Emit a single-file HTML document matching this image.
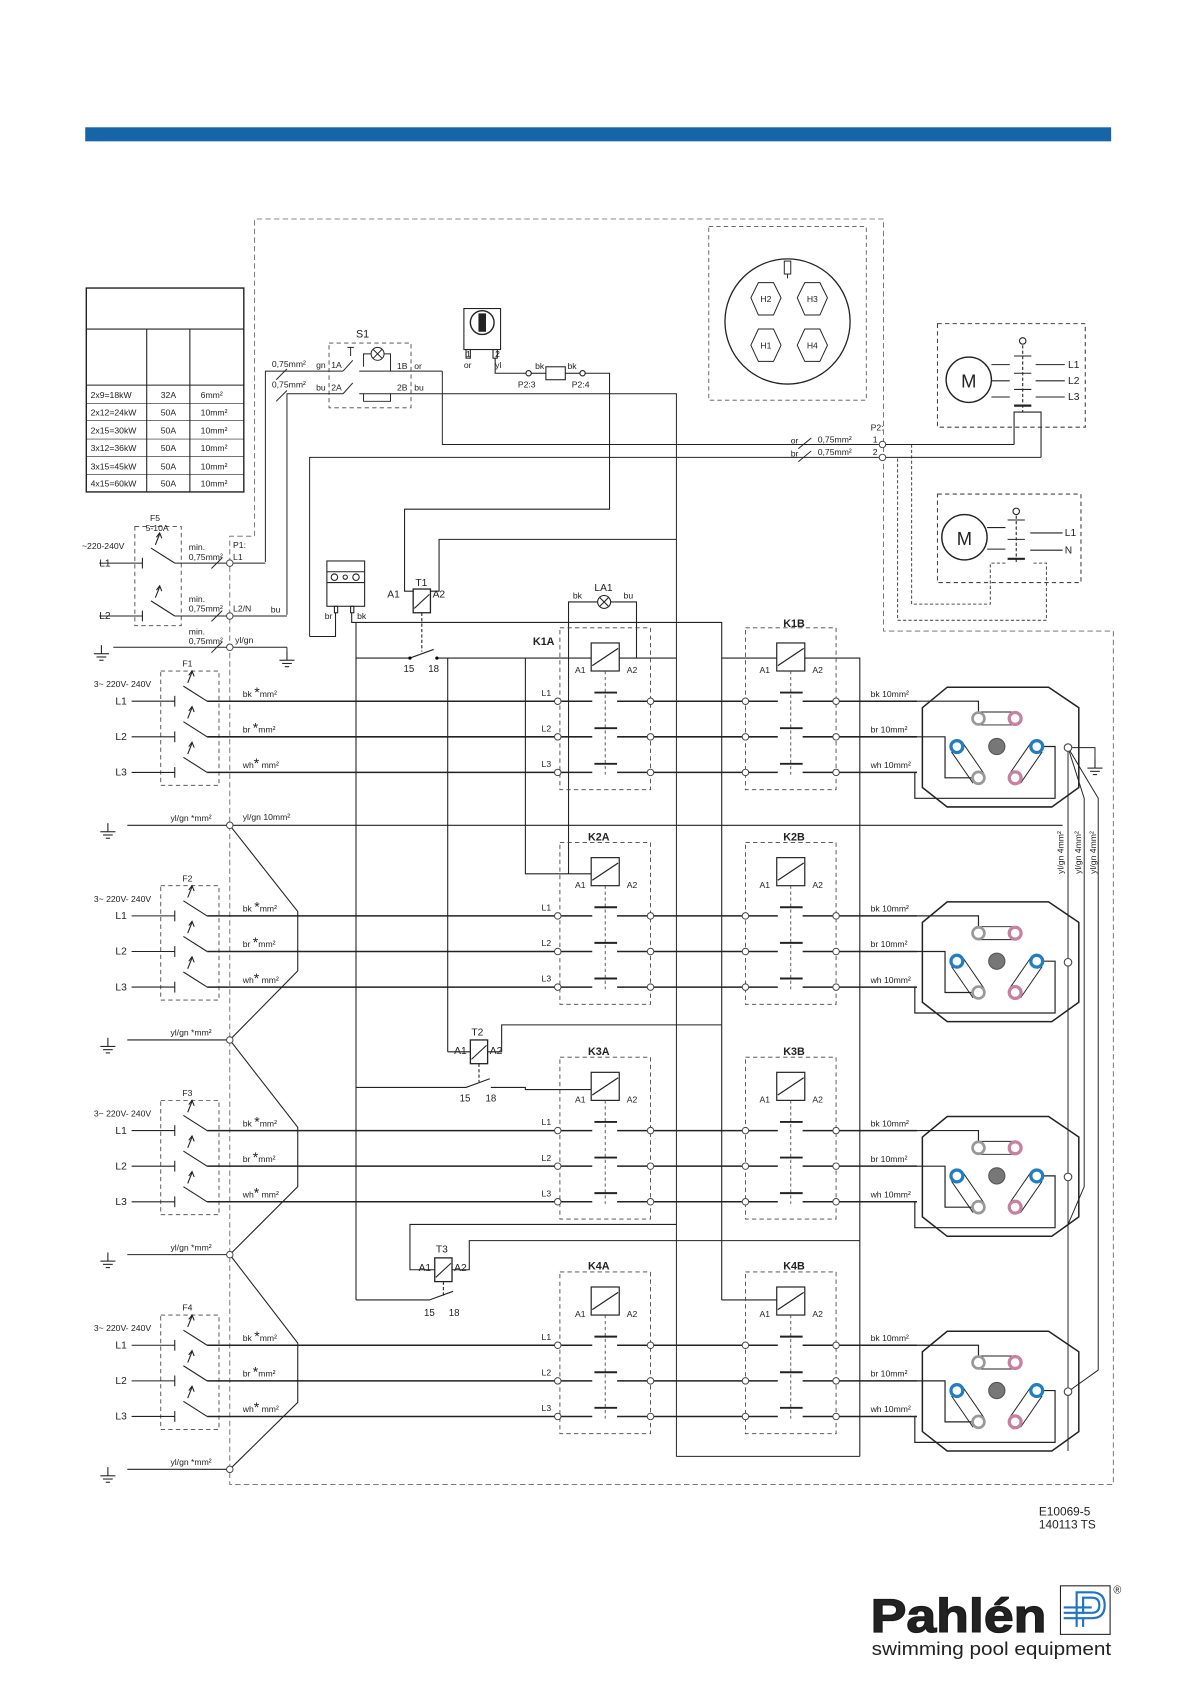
<!DOCTYPE html>
<html><head><meta charset="utf-8"><style>
html,body{margin:0;padding:0;background:#fff;}
svg{display:block;}
text{font-family:"Liberation Sans",sans-serif;fill:#222;}
.s{font-size:8px;}
.m{font-size:9.5px;}
.b{font-weight:bold;font-size:10px;}
</style></head><body>
<svg width="1191" height="1684" viewBox="0 0 1104 1561" preserveAspectRatio="none" xmlns="http://www.w3.org/2000/svg">
<defs>
<g id="trm"><circle r="3" fill="#fff" stroke="#444" stroke-width="0.9"/></g>
<g id="cont">
 <rect x="0" y="-68" width="84" height="150" fill="none" stroke="#444" stroke-width="0.8" stroke-dasharray="4,3"/>
 <rect x="29" y="-54" width="26" height="26" fill="#fff" stroke="#222" stroke-width="1.1"/>
 <line x1="30" y1="-33" x2="54" y2="-49" stroke="#222" stroke-width="1.1"/>
 <line x1="42" y1="-28" x2="42" y2="68" stroke="#444" stroke-width="0.8" stroke-dasharray="3,2.5"/>
 <line x1="32" y1="-8" x2="53" y2="-8" stroke="#222" stroke-width="1.8"/>
 <line x1="32" y1="25" x2="53" y2="25" stroke="#222" stroke-width="1.8"/>
 <line x1="32" y1="58" x2="53" y2="58" stroke="#222" stroke-width="1.8"/>
</g>
<g id="heat" fill="none" stroke="#222" stroke-width="1.1">
 <path d="M878,-13 L972,-13 L1000,6 L1000,80 L975,98 L878,98 L855,80 L855,6 Z" stroke-width="1.4"/>
 <rect x="901" y="10" width="46" height="12" rx="6" stroke-width="0.9"/>
 <path d="M882,47 L902,76 M892,38 L912,67" stroke-width="0.9"/>
 <path d="M966,47 L946,76 M956,38 L936,67" stroke-width="0.9"/>
 <path d="M850,0 L907,0 L907,16"/>
 <path d="M850,33 L876,33 L876,71 L907,71"/>
 <path d="M850,66 L848,66 L848,90 L978,90 L978,42 L961,42"/>
 <circle cx="907" cy="16" r="5.5" fill="#fff" stroke="#999" stroke-width="2.5"/>
 <circle cx="941" cy="16" r="5.5" fill="#fff" stroke="#c9809c" stroke-width="3"/>
 <circle cx="887" cy="42" r="5.5" fill="#fff" stroke="#1f7fc1" stroke-width="3"/>
 <circle cx="924" cy="42" r="7.5" fill="#777" stroke="#555" stroke-width="1"/>
 <circle cx="961" cy="42" r="5.5" fill="#fff" stroke="#1f7fc1" stroke-width="3"/>
 <circle cx="907" cy="71" r="5.5" fill="#fff" stroke="#999" stroke-width="2.5"/>
 <circle cx="941" cy="71" r="5.5" fill="#fff" stroke="#c9809c" stroke-width="3"/>
 <circle cx="990" cy="43" r="3.5" fill="#fff" stroke="#444" stroke-width="1"/>
</g>
<g id="gnd" stroke="#222" stroke-width="1" fill="none">
 <line x1="0" y1="-8" x2="0" y2="0"/><line x1="-7" y1="0" x2="7" y2="0"/><line x1="-4.5" y1="3" x2="4.5" y2="3"/><line x1="-2" y1="6" x2="2" y2="6"/>
</g>
<g id="fsw" stroke="#222" stroke-width="1" fill="none">
 <line x1="-40" y1="0" x2="0" y2="0"/><line x1="0" y1="-5" x2="0" y2="5"/>
 <line x1="8" y1="-14" x2="30" y2="0"/>
 <line x1="12" y1="-17" x2="16" y2="-27"/><path d="M13,-24 L16,-28 L18,-23" />
</g>
</defs>

<rect x="79" y="118" width="951" height="13" fill="#1565a8"/>

<path d="M236,497 L236,203 L819,203 L819,585 L1032,585 L1032,1376 L213,1376 L213,497 Z" fill="none" stroke="#666" stroke-width="0.8" stroke-dasharray="5,3"/>

<g fill="none" stroke="#222" stroke-width="1">
<rect x="80" y="267" width="146" height="189" stroke-width="1.3"/>
<line x1="80" y1="305" x2="226" y2="305"/><line x1="80" y1="357" x2="226" y2="357"/>
<line x1="136" y1="305" x2="136" y2="456"/><line x1="176" y1="305" x2="176" y2="456"/>
<line x1="80" y1="374" x2="226" y2="374" stroke-width="0.6"/><line x1="80" y1="390" x2="226" y2="390" stroke-width="0.6"/>
<line x1="80" y1="407" x2="226" y2="407" stroke-width="0.6"/><line x1="80" y1="423" x2="226" y2="423" stroke-width="0.6"/>
<line x1="80" y1="440" x2="226" y2="440" stroke-width="0.6"/>
</g>
<g class="s">
<text x="84" y="369">2x9=18kW</text><text x="149" y="369">32A</text><text x="186" y="369">6mm²</text>
<text x="84" y="385">2x12=24kW</text><text x="149" y="385">50A</text><text x="186" y="385">10mm²</text>
<text x="84" y="402">2x15=30kW</text><text x="149" y="402">50A</text><text x="186" y="402">10mm²</text>
<text x="84" y="418">3x12=36kW</text><text x="149" y="418">50A</text><text x="186" y="418">10mm²</text>
<text x="84" y="435">3x15=45kW</text><text x="149" y="435">50A</text><text x="186" y="435">10mm²</text>
<text x="84" y="451">4x15=60kW</text><text x="149" y="451">50A</text><text x="186" y="451">10mm²</text>
</g>

<rect x="657" y="210" width="146" height="161" fill="none" stroke="#555" stroke-width="0.8" stroke-dasharray="4,3"/>
<circle cx="730" cy="298" r="58" fill="none" stroke="#222" stroke-width="1.2"/>
<g fill="none" stroke="#222" stroke-width="0.9">
<path d="M703,262 L717,262 L724,276 L717,292 L703,292 L696,276 Z"/>
<path d="M746,262 L760,262 L767,276 L760,292 L746,292 L739,276 Z"/>
<path d="M703,305 L717,305 L724,320 L717,335 L703,335 L696,320 Z"/>
<path d="M746,305 L760,305 L767,320 L760,335 L746,335 L739,320 Z"/>
<rect x="727" y="242" width="6" height="12"/><line x1="730" y1="254" x2="730" y2="258"/>
</g>
<g class="s" text-anchor="middle"><text x="710" y="280">H2</text><text x="753" y="280">H3</text><text x="710" y="323">H1</text><text x="753" y="323">H4</text></g>

<g fill="none" stroke="#222" stroke-width="1">
<rect x="869" y="300" width="137" height="96" stroke="#444" stroke-dasharray="4,3"/>
<circle cx="898" cy="352" r="21" stroke-width="1.3"/>
<line x1="919" y1="338" x2="936" y2="338"/><line x1="919" y1="353" x2="936" y2="353"/><line x1="919" y1="368" x2="936" y2="368"/>
<line x1="948" y1="320" x2="948" y2="382" stroke-dasharray="3,2"/>
<line x1="940" y1="330" x2="956" y2="330"/><line x1="940" y1="346" x2="956" y2="346"/><line x1="940" y1="361" x2="956" y2="361"/><line x1="940" y1="376" x2="956" y2="376" stroke-width="2"/>
<line x1="960" y1="338" x2="987" y2="338"/><line x1="960" y1="353" x2="987" y2="353"/><line x1="960" y1="368" x2="987" y2="368"/>
<circle cx="948" cy="316" r="3"/>
<path d="M940,412 L940,382 L960,382 L965,382 L965,424"/>
<rect x="869" y="458" width="133" height="82" stroke="#444" stroke-dasharray="4,3"/>
<circle cx="894" cy="498" r="21" stroke-width="1.3"/>
<line x1="915" y1="489" x2="932" y2="489"/><line x1="915" y1="509" x2="932" y2="509"/>
<line x1="942" y1="478" x2="942" y2="522" stroke-dasharray="3,2"/>
<line x1="934" y1="482" x2="950" y2="482"/><line x1="934" y1="500" x2="950" y2="500"/><line x1="934" y1="518" x2="950" y2="518" stroke-width="2"/>
<line x1="955" y1="494" x2="985" y2="494"/><line x1="955" y1="510" x2="985" y2="510"/>
<circle cx="942" cy="474" r="3"/>
<path d="M932,522 L918,522 L918,560 L845,560 L845,412" stroke-dasharray="3,2" stroke="#555"/>
<path d="M958,522 L970,522 L970,575 L832,575 L832,424" stroke-dasharray="3,2" stroke="#555"/>
</g>
<text x="898" y="359" font-size="17" text-anchor="middle">M</text>
<text x="894" y="505" font-size="17" text-anchor="middle">M</text>
<g class="m"><text x="990" y="341">L1</text><text x="990" y="356">L2</text><text x="990" y="371">L3</text><text x="987" y="497">L1</text><text x="987" y="513">N</text></g>

<g fill="none" stroke="#222" stroke-width="0.9">
<path d="M410,344 L410,412 L940,412"/>
<path d="M287,590 L287,424 L965,424"/>
<line x1="740" y1="416" x2="752" y2="406"/><line x1="740" y1="428" x2="752" y2="418"/>
</g>
<use href="#trm" x="818" y="412"/><use href="#trm" x="818" y="424"/>
<g class="s"><text x="807" y="399">P2:</text><text x="809" y="410">1</text><text x="809" y="422">2</text>
<text x="733" y="411">or</text><text x="758" y="410">0,75mm²</text><text x="733" y="423">br</text><text x="758" y="422">0,75mm²</text></g>

<rect x="305" y="318" width="76" height="60" fill="none" stroke="#444" stroke-width="0.8" stroke-dasharray="4,3"/>
<g fill="none" stroke="#222" stroke-width="0.9">
<circle cx="350" cy="328" r="6"/><path d="M346,324 L354,332 M354,324 L346,332"/>
<path d="M246,521 L246,344 L318,344"/><path d="M266,570 L266,365 L318,365"/>
<line x1="318" y1="344" x2="327" y2="334"/><line x1="318" y1="365" x2="327" y2="355"/>
<path d="M325,330 L325,322 M322,322 L328,322"/>
<path d="M333,344 L381,344 L410,344"/><path d="M333,365 L381,365 L627,365 L627,1350"/>
<line x1="256" y1="352" x2="266" y2="342"/><line x1="256" y1="372" x2="266" y2="362"/>
<path d="M344,328 L337,328 L337,340 M356,328 L362,328 L362,344"/>
<path d="M337,365 L337,372 L362,372 L362,365"/>
</g>
<g class="s"><text x="330" y="313" font-size="10">S1</text>
<text x="252" y="340">0,75mm²</text><text x="293" y="341">gn</text><text x="307" y="341">1A</text>
<text x="252" y="359">0,75mm²</text><text x="293" y="362">bu</text><text x="307" y="362">2A</text>
<text x="368" y="342">1B</text><text x="384" y="342">or</text><text x="368" y="362">2B</text><text x="384" y="362">bu</text></g>

<g fill="none" stroke="#222" stroke-width="1">
<rect x="430" y="286" width="34" height="38"/>
<circle cx="447" cy="299" r="11" stroke-width="1.3"/><rect x="444" y="291" width="6" height="16" fill="#222"/>
<rect x="432" y="324" width="4" height="8"/><rect x="457" y="324" width="4" height="8"/>
<path d="M459,332 L459,346 L488,346"/>
<circle cx="490" cy="346" r="2.5" fill="#fff"/><rect x="506" y="340" width="18" height="12"/><circle cx="540" cy="346" r="2.5" fill="#fff"/>
<line x1="492" y1="346" x2="506" y2="346"/><line x1="524" y1="346" x2="538" y2="346"/>
<path d="M542,346 L565,346 L565,472 L375,472 L375,548 L383,548"/>
<path d="M399,548 L407,548 L407,500 L627,500"/>
</g>
<g class="s"><text x="432" y="331">1</text><text x="430" y="341">or</text><text x="459" y="331">2</text><text x="459" y="341">yl</text>
<text x="496" y="342">bk</text><text x="526" y="342">bk</text><text x="480" y="359">P2:3</text><text x="530" y="359">P2:4</text></g>

<rect x="125" y="488" width="43" height="92" fill="none" stroke="#444" stroke-width="0.8" stroke-dasharray="4,3"/>
<use href="#fsw" x="132" y="522"/><use href="#fsw" x="132" y="571"/>
<g fill="none" stroke="#222" stroke-width="0.9">
<line x1="162" y1="522" x2="246" y2="522"/><line x1="162" y1="571" x2="266" y2="571"/>
<line x1="105" y1="600" x2="266" y2="600"/><line x1="266" y1="600" x2="266" y2="606"/>
<line x1="196" y1="527" x2="206" y2="517"/><line x1="196" y1="576" x2="206" y2="566"/><line x1="196" y1="605" x2="206" y2="595"/>
</g>
<use href="#trm" x="213" y="522"/><use href="#trm" x="213" y="571"/><use href="#trm" x="213" y="600"/>
<use href="#gnd" x="94" y="606"/><use href="#gnd" x="266" y="612"/>
<g class="s"><text x="139" y="483">F5</text><text x="135" y="492">5-10A</text><text x="76" y="509">~220-240V</text>
<text x="92" y="525" class="m">L1</text><text x="92" y="574" class="m">L2</text>
<text x="175" y="510">min.</text><text x="175" y="519">0,75mm²</text><text x="216" y="508">P1:</text><text x="216" y="519">L1</text>
<text x="175" y="558">min.</text><text x="175" y="567">0,75mm²</text><text x="216" y="567">L2/N</text><text x="251" y="568">bu</text>
<text x="175" y="588">min.</text><text x="175" y="597">0,75mm²</text><text x="218" y="596">yl/gn</text></g>

<g fill="none" stroke="#222" stroke-width="1">
<rect x="303" y="520" width="35" height="42"/><line x1="303" y1="530" x2="338" y2="530"/><line x1="303" y1="540" x2="338" y2="540"/>
<circle cx="310" cy="535" r="3"/><circle cx="320" cy="535" r="2"/><circle cx="330" cy="535" r="3"/>
<rect x="310" y="562" width="3" height="6"/><rect x="325" y="562" width="3" height="6"/>
<path d="M311,568 L311,590 L287,590"/>
<path d="M326,568 L326,577 L669,577 L669,1205"/>
<line x1="330" y1="577" x2="330" y2="1205"/>
</g>
<g class="s"><text x="301" y="574">br</text><text x="331" y="574">bk</text></g>

<g fill="none" stroke="#222" stroke-width="1">
<rect x="383" y="546" width="16" height="22" stroke-width="1.2"/><line x1="384" y1="564" x2="398" y2="551"/>
<line x1="391" y1="568" x2="391" y2="604" stroke-dasharray="3,2"/>
<path d="M330,610 L380,610 L402,602 M405,610 L627,610"/>
<line x1="415" y1="610" x2="415" y2="975"/>
<path d="M527,810 L527,558 L554,558"/><circle cx="560" cy="558" r="6"/><path d="M556,554 L564,562 M564,554 L556,562"/>
<path d="M566,558 L590,558 L590,610"/>
<path d="M487,610 L487,810 L548,810"/>
<path d="M669,610 L722,610"/><path d="M745,610 L797,610 L797,1350"/>
<line x1="627" y1="1350" x2="797" y2="1350"/>
</g>
<circle cx="380" cy="610" r="1.5"/><circle cx="405" cy="610" r="1.5"/>
<g class="m"><text x="385" y="543">T1</text><text x="359" y="554">A1</text><text x="401" y="554">A2</text>
<text x="374" y="623" font-size="9">15</text><text x="397" y="623" font-size="9">18</text>
<text x="551" y="548">LA1</text></g>
<g class="s"><text x="531" y="555">bk</text><text x="578" y="555">bu</text></g>

<g fill="none" stroke="#222" stroke-width="1">
<rect x="436" y="964" width="16" height="22" stroke-width="1.2"/><line x1="437" y1="982" x2="451" y2="969"/>
<path d="M436,975 L415,975"/><path d="M452,975 L465,975 L465,950 L669,950"/>
<line x1="444" y1="986" x2="444" y2="1003" stroke-dasharray="3,2"/>
<path d="M330,1008 L432,1008 L454,1000 M455,1008 L487,1008 L487,1010 L548,1010"/>
<rect x="403" y="1166" width="16" height="22" stroke-width="1.2"/><line x1="404" y1="1184" x2="418" y2="1171"/>
<path d="M403,1177 L380,1177 L380,1135 L627,1135"/><path d="M419,1177 L435,1177 L435,1150 L797,1150"/>
<line x1="411" y1="1188" x2="411" y2="1202" stroke-dasharray="3,2"/>
<path d="M330,1205 L398,1205 L420,1197"/>
<path d="M669,1205 L722,1205"/>
</g>
<g class="m"><text x="437" y="960">T2</text><text x="421" y="977">A1</text><text x="454" y="977">A2</text>
<text x="426" y="1021" font-size="9">15</text><text x="450" y="1021" font-size="9">18</text>
<text x="404" y="1161">T3</text><text x="388" y="1178">A1</text><text x="421" y="1178">A2</text>
<text x="393" y="1220" font-size="9">15</text><text x="416" y="1220" font-size="9">18</text></g>

<path d="M213,765 L276,845 L276,900 L213,964 L276,1045 L276,1100 L213,1163 L276,1245 L276,1300 L213,1362" fill="none" stroke="#222" stroke-width="1"/>
<path d="M216,765 L985,765" fill="none" stroke="#222" stroke-width="1"/>
<text x="225" y="760" class="s">yl/gn 10mm²</text>
<g fill="none" stroke="#222" stroke-width="0.9">
<path d="M990,693 L1015,693 L1015,706"/>
<path d="M990,693 L990,1345"/><path d="M990,693 L1005,740 L1005,1100 L990,1135"/><path d="M990,693 L1018,740 L1018,1270 L990,1290"/>
</g>
<use href="#gnd" x="1015" y="712"/>
<g class="s"><text transform="translate(986,810) rotate(-90)">yl/gn 4mm²</text><text transform="translate(1002,810) rotate(-90)">yl/gn 4mm²</text><text transform="translate(1016,810) rotate(-90)">yl/gn 4mm²</text></g>

<g id="grp1" transform="translate(0,650)">
 <rect x="149" y="-28" width="54" height="106" fill="none" stroke="#444" stroke-width="0.8" stroke-dasharray="4,3"/>
 <use href="#fsw" x="162" y="0"/><use href="#fsw" x="162" y="33"/><use href="#fsw" x="162" y="66"/>
 <g stroke="#222" stroke-width="1.4" fill="none">
  <path d="M192,0 L514,0 M520,0 L549,0 M572,0 L600,0 M606,0 L688,0 M694,0 L721,0 M744,0 L772,0 M778,0 L850,0"/>
  <path d="M192,33 L514,33 M520,33 L549,33 M572,33 L600,33 M606,33 L688,33 M694,33 L721,33 M744,33 L772,33 M778,33 L850,33"/>
  <path d="M192,66 L514,66 M520,66 L549,66 M572,66 L600,66 M606,66 L688,66 M694,66 L721,66 M744,66 L772,66 M778,66 L850,66"/>
 </g>
 <use href="#cont" x="519" y="0"/><use href="#cont" x="691" y="0"/>
 <use href="#trm" x="517" y="0"/><use href="#trm" x="517" y="33"/><use href="#trm" x="517" y="66"/>
 <use href="#trm" x="603" y="0"/><use href="#trm" x="603" y="33"/><use href="#trm" x="603" y="66"/>
 <use href="#trm" x="691" y="0"/><use href="#trm" x="691" y="33"/><use href="#trm" x="691" y="66"/>
 <use href="#trm" x="775" y="0"/><use href="#trm" x="775" y="33"/><use href="#trm" x="775" y="66"/>
 <use href="#heat" x="0" y="0"/>
 <line x1="118" y1="115" x2="210" y2="115" stroke="#222" stroke-width="1"/>
 <use href="#gnd" x="100" y="121"/><use href="#trm" x="213" y="115"/>
 <g class="s">
  <text x="87" y="-13">3~ 220V- 240V</text>
  <text x="107" y="3" class="m">L1</text><text x="107" y="36" class="m">L2</text><text x="107" y="69" class="m">L3</text>
  <text x="225" y="-4">bk <tspan font-size="13">*</tspan>mm²</text><text x="225" y="29">br <tspan font-size="13">*</tspan>mm²</text><text x="225" y="62">wh<tspan font-size="13">*</tspan> mm²</text>
  <text x="502" y="-5">L1</text><text x="502" y="28">L2</text><text x="502" y="61">L3</text>
  <text x="533" y="-26">A1</text><text x="581" y="-26">A2</text><text x="704" y="-26">A1</text><text x="753" y="-26">A2</text>
  <text x="807" y="-4">bk  10mm²</text><text x="807" y="29">br  10mm²</text><text x="807" y="62">wh  10mm²</text>
  <text x="158" y="111">yl/gn  *mm²</text>
 </g>
</g>
<g class="b"><text x="169" y="618" class="s" font-weight="normal">F1</text><text x="494" y="598">K1A</text><text x="726" y="581">K1B</text></g>

<g transform="translate(0,199)"><use href="#grp1"/></g>
<g transform="translate(0,398)"><use href="#grp1"/></g>
<g transform="translate(0,597)"><use href="#grp1"/></g>
<g class="b">
<text x="169" y="817" class="s" font-weight="normal">F2</text><text x="545" y="779">K2A</text><text x="726" y="779">K2B</text>
<text x="169" y="1016" class="s" font-weight="normal">F3</text><text x="545" y="978">K3A</text><text x="726" y="978">K3B</text>
<text x="169" y="1215" class="s" font-weight="normal">F4</text><text x="545" y="1177">K4A</text><text x="726" y="1177">K4B</text>
</g>

<text x="963" y="1405" font-size="11">E10069-5</text>
<text x="963" y="1417" font-size="11">140113 TS</text>

<text x="807" y="1513" font-size="44" font-weight="bold" textLength="163" lengthAdjust="spacingAndGlyphs" stroke="#1a1a1a" stroke-width="1.2" fill="#1a1a1a">Pahlén</text>
<text x="808" y="1534" font-size="17.5" textLength="222" lengthAdjust="spacingAndGlyphs" fill="#222">swimming pool equipment</text>
<rect x="983" y="1470" width="46" height="45" fill="#fff" stroke="#222" stroke-width="1"/>
<g fill="none" stroke="#1f74c4" stroke-width="2">
<path d="M998,1508 L998,1476 L1012,1476 Q1024,1476 1024,1488 Q1024,1500 1012,1500 L1004,1500 L1004,1508"/>
<path d="M1004,1496 L1004,1481 L1012,1481 Q1019,1481 1019,1488 Q1019,1495 1012,1495"/>
<line x1="986" y1="1490" x2="1012" y2="1490"/><line x1="986" y1="1495" x2="1012" y2="1495"/><line x1="986" y1="1500" x2="1004" y2="1500"/>
</g>
<text x="1032" y="1477" font-size="10">®</text>
</svg>
</body></html>
